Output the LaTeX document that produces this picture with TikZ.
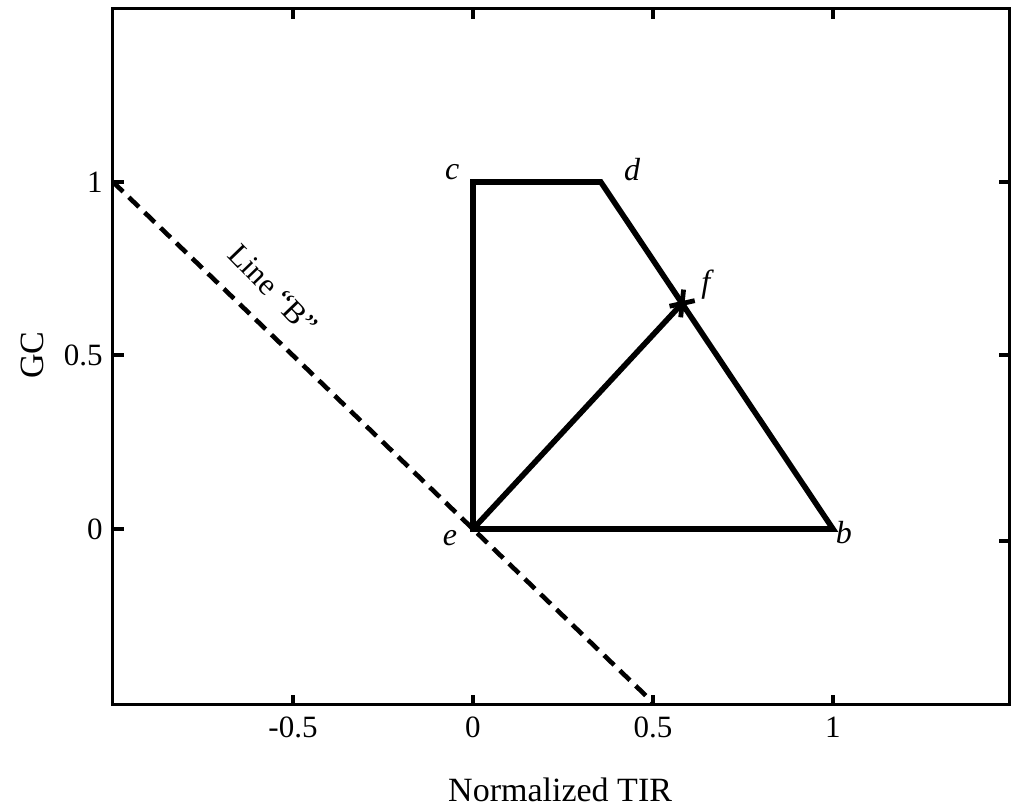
\documentclass[tikz,border=0pt]{standalone}
\usepackage{fontspec}
\setmainfont{Liberation Serif}
\begin{document}
\begin{tikzpicture}[x=180pt,y=173.5pt,
  frame/.style={line width=1.5pt},
  poly/.style={line width=2.8pt,line join=miter},
  tickmark/.style={line width=2pt},
  lineB/.style={line width=2.3pt,dash pattern=on 7pt off 4pt},
  ticklab/.style={font=\fontsize{15.5}{18}\selectfont,inner sep=0pt},
  ptlab/.style={font=\fontsize{16}{19}\selectfont\itshape,inner sep=0pt},
  axlab/.style={font=\fontsize{17}{20}\selectfont,inner sep=0pt}]
\useasboundingbox (-1.3139,-0.8127) rectangle (1.5306,1.5245);
% frame
\draw[frame] (-1,-0.507) rectangle (1.49,1.5);
% ticks bottom/top
\foreach \t in {-0.5,0,0.5,1}{
  \draw[tickmark] (\t,-0.507) -- ++(0,0.03);
  \draw[tickmark] (\t,1.5) -- ++(0,-0.03);
}
% ticks left/right
\foreach \t in {0,0.5,1}{
  \draw[tickmark] (-1,\t) -- ++(0.03,0);
}
\foreach \t in {-0.035,0.5,1}{
  \draw[tickmark] (1.49,\t) -- ++(-0.03,0);
}
% tick labels
\foreach \t/\l in {-0.5/-0.5,0/0,0.5/0.5,1/1}{
  \node[ticklab] (bx\l) at (\t,-0.571) {\l};
}
\foreach \t/\l in {0/0,0.5/0.5,1/1}{
  \node[ticklab,anchor=east] (ly\l) at (-1.028,\t) {\l};
}
\node[axlab] (xlab) at (0.242,-0.752) {Normalized TIR};
\node[axlab,rotate=90] (ylab) at (-1.225,0.501) {GC};
% points
\coordinate (c) at (0,1);
\coordinate (d) at (0.355,1);
\coordinate (b) at (1,0);
\coordinate (e) at (0,0);
\coordinate (f) at (0.581,0.65);
\coordinate (B1) at (-1,1);
\coordinate (B2) at (0.5,-0.5);
% line B
\draw[lineB] (B1) -- (B2);
\node[ticklab,rotate=-46] (lbl) at (-0.556,0.69) {Line “B”};
% polygon
\draw[poly] (c) -- (d) -- (b) -- (e) -- cycle;
\draw[poly] (e) -- (f);
% f mark
\draw[line width=2.4pt] ([shift={(-0.035,-0.008)}]f) -- ([shift={(0.035,0.008)}]f);
\draw[line width=2.4pt] ([shift={(-0.004,-0.04)}]f) -- ([shift={(0.004,0.04)}]f);
% point labels
\node[ptlab] (lc) at (-0.058,1.029) {c};
\node[ptlab] (ld) at (0.442,1.035) {d};
\node[ptlab] (lf) at (0.647,0.703) {f};
\node[ptlab] (le) at (-0.064,-0.026) {e};
\node[ptlab] (lb) at (1.03,-0.01) {b};
\end{tikzpicture}
\end{document}
